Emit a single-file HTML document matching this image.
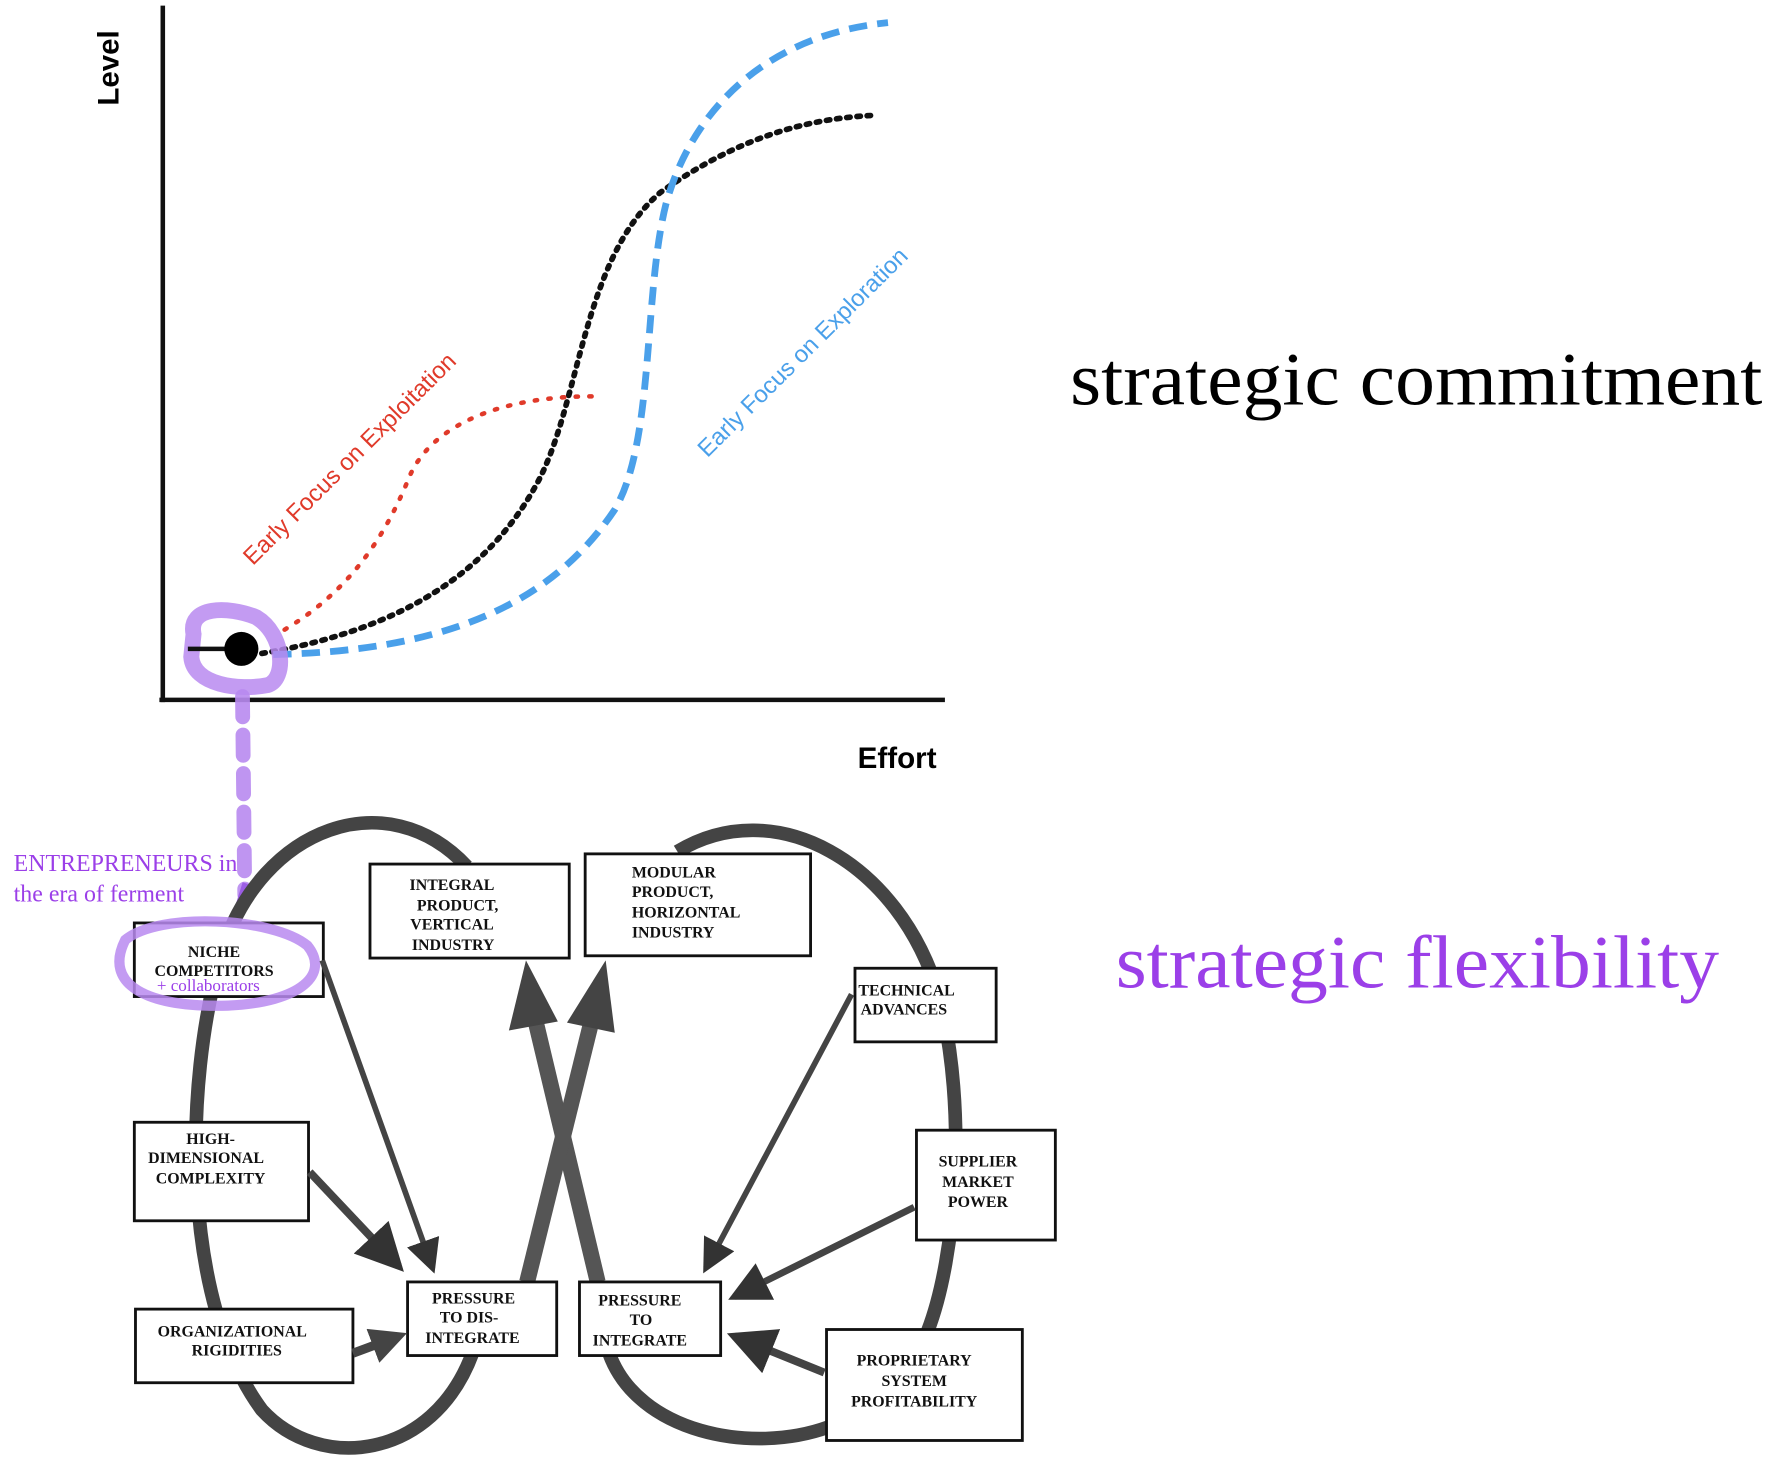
<!DOCTYPE html>
<html><head><meta charset="utf-8"><style>
html,body{margin:0;padding:0;background:#fff;}
svg{display:block;}
.bx{fill:#fff;stroke:#111;stroke-width:2.5;}
.bt{font-family:"Liberation Serif",serif;font-weight:bold;font-size:14px;fill:#111;}
</style></head><body>
<svg width="1776" height="1462" viewBox="0 0 1560 1291" preserveAspectRatio="none" xmlns="http://www.w3.org/2000/svg">
<defs>
<marker id="ah" markerWidth="6" markerHeight="6" refX="5" refY="3" orient="auto" markerUnits="strokeWidth"><path d="M0,0 L6,3 L0,6 z" fill="#333"/></marker>
<marker id="ah2" markerWidth="4" markerHeight="4" refX="3" refY="2" orient="auto" markerUnits="strokeWidth"><path d="M0,0 L4,2 L0,4 z" fill="#444"/></marker>
</defs>
<!-- axes -->
<line x1="143" y1="5" x2="143" y2="620" stroke="#111" stroke-width="4"/>
<line x1="140" y1="618" x2="830" y2="618" stroke="#111" stroke-width="4"/>
<text transform="translate(104,60) rotate(-90)" text-anchor="middle" font-family="Liberation Sans,sans-serif" font-weight="bold" font-size="26">Level</text>
<text x="788" y="678" text-anchor="middle" font-family="Liberation Sans,sans-serif" font-weight="bold" font-size="26">Effort</text>
<!-- curves -->
<path d="M230,577 C330,560 420,520 470,430 C510,360 510,230 580,170 C650,120 710,105 765,102" fill="none" stroke="#111" stroke-width="5" stroke-dasharray="3 6" stroke-linecap="round"/>
<path d="M240,578 C380,575 480,540 540,450 C575,390 565,260 585,180 C610,90 680,30 780,20" fill="none" stroke="#4aa0ea" stroke-width="6" stroke-dasharray="16 9"/>
<path d="M250,556 C310,520 340,470 360,420 C380,375 440,350 520,350" fill="none" stroke="#e03a2a" stroke-width="4" stroke-dasharray="2 10" stroke-linecap="round"/>
<text transform="translate(312,410) rotate(-45)" text-anchor="middle" font-family="Liberation Sans,sans-serif" font-size="21" fill="#e03a2a">Early Focus on Exploitation</text>
<text transform="translate(710,316) rotate(-45)" text-anchor="middle" font-family="Liberation Sans,sans-serif" font-size="21" fill="#4aa0ea">Early Focus on Exploration</text>
<!-- purple blob -->
<path d="M170,560 C165,535 200,535 225,545 C250,560 252,600 235,605 C210,610 170,605 168,580 Z" fill="none" stroke="#b98af0" stroke-width="14" opacity="0.85"/>
<line x1="165" y1="573" x2="212" y2="573" stroke="#111" stroke-width="4"/>
<circle cx="212" cy="573" r="15" fill="#000"/>
<line x1="213" y1="615" x2="215" y2="790" stroke="#b98af0" stroke-width="13" stroke-dasharray="18 16" stroke-linecap="round" opacity="0.9"/>
<line x1="216" y1="780" x2="206" y2="812" stroke="#9b5de5" stroke-width="6"/>
<!-- big texts -->
<text x="940" y="357" font-family="Liberation Serif,serif" font-size="66" fill="#000" textLength="608" lengthAdjust="spacingAndGlyphs">strategic commitment</text>
<text x="980" y="872" font-family="Liberation Serif,serif" font-size="66" fill="#9b3fe8" textLength="530" lengthAdjust="spacingAndGlyphs">strategic flexibility</text>
<text x="12" y="769" font-family="Liberation Serif,serif" font-size="21" fill="#9b3fe8">ENTREPRENEURS in</text>
<text x="12" y="796" font-family="Liberation Serif,serif" font-size="21" fill="#9b3fe8">the era of ferment</text>
<!-- loops -->
<path d="M410,765 C340,690 230,730 195,840 C160,960 160,1150 230,1245 C280,1300 380,1290 415,1195" fill="none" stroke="#444" stroke-width="12"/>
<path d="M595,752 C680,700 790,760 825,880 C850,980 840,1110 815,1175" fill="none" stroke="#444" stroke-width="12"/>
<path d="M728,1260 C660,1285 560,1265 535,1195" fill="none" stroke="#444" stroke-width="12"/>
<!-- crossing arrows -->
<line x1="525" y1="1132" x2="470" y2="900" stroke="#555" stroke-width="14"/>
<polygon points="462,848 447,910 490,902" fill="#444"/>
<line x1="463" y1="1132" x2="520" y2="900" stroke="#555" stroke-width="14"/>
<polygon points="532,848 498,903 540,912" fill="#444"/>
<!-- boxes -->
<rect class="bx" x="325" y="763" width="175" height="83"/>
<text class="bt" x="397" y="786" text-anchor="middle">INTEGRAL</text>
<text class="bt" x="402" y="804" text-anchor="middle">PRODUCT,</text>
<text class="bt" x="397" y="821" text-anchor="middle">VERTICAL</text>
<text class="bt" x="398" y="839" text-anchor="middle">INDUSTRY</text>
<rect class="bx" x="514" y="754" width="198" height="90"/>
<text class="bt" x="555" y="775">MODULAR</text>
<text class="bt" x="555" y="792">PRODUCT,</text>
<text class="bt" x="555" y="810">HORIZONTAL</text>
<text class="bt" x="555" y="828">INDUSTRY</text>
<rect class="bx" x="118" y="815" width="166" height="65"/>
<text class="bt" x="188" y="845" text-anchor="middle">NICHE</text>
<text class="bt" x="188" y="862" text-anchor="middle">COMPETITORS</text>
<text x="183" y="875" text-anchor="middle" font-family="Liberation Serif,serif" font-size="15" fill="#9b3fe8">+ collaborators</text>
<path d="M110,830 C140,805 240,810 270,835 C290,860 265,885 200,888 C130,890 90,870 110,830 Z" fill="none" stroke="#b98af0" stroke-width="9" opacity="0.85"/>
<rect class="bx" x="751" y="855" width="124" height="65"/>
<text class="bt" x="754" y="879">TECHNICAL</text>
<text class="bt" x="756" y="896">ADVANCES</text>
<rect class="bx" x="118" y="991" width="153" height="87"/>
<text class="bt" x="185" y="1010" text-anchor="middle">HIGH-</text>
<text class="bt" x="181" y="1027" text-anchor="middle">DIMENSIONAL</text>
<text class="bt" x="185" y="1045" text-anchor="middle">COMPLEXITY</text>
<rect class="bx" x="805" y="998" width="122" height="97"/>
<text class="bt" x="859" y="1030" text-anchor="middle">SUPPLIER</text>
<text class="bt" x="859" y="1048" text-anchor="middle">MARKET</text>
<text class="bt" x="859" y="1066" text-anchor="middle">POWER</text>
<rect class="bx" x="358" y="1132" width="131" height="65"/>
<text class="bt" x="416" y="1151" text-anchor="middle">PRESSURE</text>
<text class="bt" x="412" y="1168" text-anchor="middle">TO DIS-</text>
<text class="bt" x="415" y="1186" text-anchor="middle">INTEGRATE</text>
<rect class="bx" x="509" y="1132" width="124" height="65"/>
<text class="bt" x="562" y="1153" text-anchor="middle">PRESSURE</text>
<text class="bt" x="563" y="1170" text-anchor="middle">TO</text>
<text class="bt" x="562" y="1188" text-anchor="middle">INTEGRATE</text>
<rect class="bx" x="119" y="1156" width="191" height="65"/>
<text class="bt" x="204" y="1180" text-anchor="middle">ORGANIZATIONAL</text>
<text class="bt" x="208" y="1197" text-anchor="middle">RIGIDITIES</text>
<rect class="bx" x="726" y="1174" width="172" height="98"/>
<text class="bt" x="803" y="1206" text-anchor="middle">PROPRIETARY</text>
<text class="bt" x="803" y="1224" text-anchor="middle">SYSTEM</text>
<text class="bt" x="803" y="1242" text-anchor="middle">PROFITABILITY</text>
<!-- arrows to pressure boxes -->
<line x1="283" y1="848" x2="380" y2="1120" stroke="#444" stroke-width="5" marker-end="url(#ah)"/>
<line x1="272" y1="1035" x2="350" y2="1118" stroke="#444" stroke-width="7" marker-end="url(#ah)"/>
<line x1="310" y1="1195" x2="350" y2="1180" stroke="#444" stroke-width="8" marker-end="url(#ah2)"/>
<line x1="748" y1="878" x2="620" y2="1120" stroke="#444" stroke-width="5" marker-end="url(#ah)"/>
<line x1="803" y1="1066" x2="645" y2="1145" stroke="#444" stroke-width="6" marker-end="url(#ah)"/>
<line x1="724" y1="1212" x2="645" y2="1180" stroke="#444" stroke-width="7" marker-end="url(#ah)"/>
</svg>
</body></html>
